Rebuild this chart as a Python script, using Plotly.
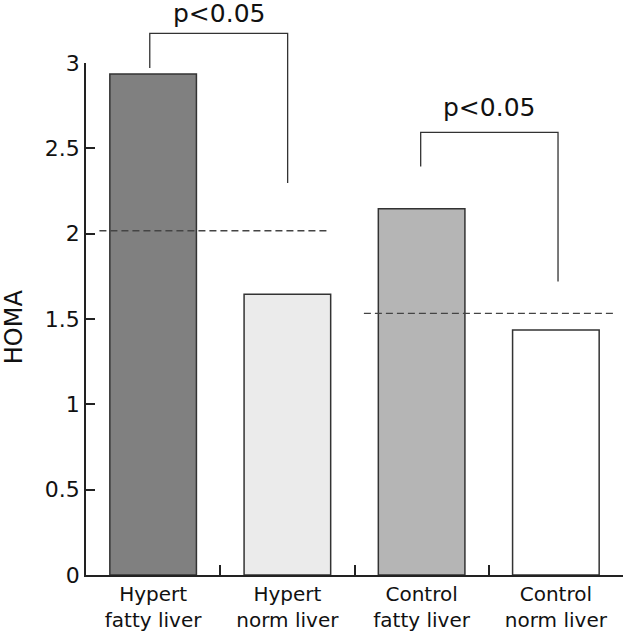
import plotly.graph_objects as go

# ---- data ----
categories = ["Hypert<br>fatty liver", "Hypert<br>norm liver", "Control<br>fatty liver", "Control<br>norm liver"]
homa_values = [2.935, 1.645, 2.146, 1.436]
bar_colors = ["#808080", "#ebebeb", "#b5b5b5", "#ffffff"]

# group mean reference lines (dashed)
mean_values = [2.017, 1.533]
mean_x_start = [-0.40, 1.57]
mean_x_end = [1.30, 3.45]

# significance brackets
bracket_left_x = [-0.025, 1.993]
bracket_right_x = [1.002, 3.016]
bracket_top_y = [3.173, 2.593]
bracket_left_bottom = [2.97, 2.393]
bracket_right_bottom = [2.297, 1.719]
bracket_labels = ["p&lt;0.05", "p&lt;0.05"]
label_y = [3.29, 2.74]

y_tick_vals = [0, 0.5, 1, 1.5, 2, 2.5, 3]
y_tick_text = ["0", "0.5", "1", "1.5", "2", "2.5", "3"]
Y_RANGE = [0, 3]
N = len(categories)

FONT = "DejaVu Sans"
INK = "#222222"


def px_(i):
    return (i + 0.5) / N


def py_(v):
    return (v - Y_RANGE[0]) / (Y_RANGE[1] - Y_RANGE[0])


fig = go.Figure()
fig.add_trace(go.Bar(
    x=categories, y=homa_values,
    marker=dict(color=bar_colors, line=dict(color="#333333", width=1.5)),
    width=0.645,
    showlegend=False,
    hoverinfo="skip",
))

shapes = []
for v, a, b in zip(mean_values, mean_x_start, mean_x_end):
    shapes.append(dict(type="line", xref="paper", yref="paper",
                       x0=px_(a), x1=px_(b), y0=py_(v), y1=py_(v),
                       line=dict(color="#444444", width=1.4, dash="7px,4px")))

for lx, rx, ty, lb, rb in zip(bracket_left_x, bracket_right_x, bracket_top_y,
                              bracket_left_bottom, bracket_right_bottom):
    shapes.append(dict(type="path", xref="paper", yref="paper",
                       path=f"M {px_(lx)},{py_(lb)} L {px_(lx)},{py_(ty)} L {px_(rx)},{py_(ty)} L {px_(rx)},{py_(rb)}",
                       line=dict(color="#333333", width=1.3)))

annotations = []
for lx, rx, t, ly in zip(bracket_left_x, bracket_right_x, bracket_labels, label_y):
    annotations.append(dict(xref="paper", yref="paper", x=px_((lx + rx) / 2), y=py_(ly),
                            text=t, showarrow=False, xanchor="center", yanchor="middle",
                            font=dict(family=FONT, size=25, color="#111111")))

annotations.append(dict(xref="paper", yref="paper", x=(14 - 86) / 537, y=0.484,
                        text="HOMA", textangle=-90, showarrow=False,
                        xanchor="center", yanchor="middle",
                        font=dict(family=FONT, size=24, color="#111111")))

fig.update_layout(
    width=624, height=640,
    margin=dict(l=86, r=1, t=63, b=65),
    plot_bgcolor="white", paper_bgcolor="white",
    shapes=shapes, annotations=annotations,
    bargap=0.355,
    hovermode=False,
)
fig.update_xaxes(
    type="category", showline=True, linecolor=INK, linewidth=1.5,
    ticks="inside", tickson="boundaries", ticklen=10, tickwidth=1.5, tickcolor=INK,
    tickfont=dict(family=FONT, size=20, color="#111111"),
    showgrid=False, zeroline=False, fixedrange=True,
)
fig.update_yaxes(
    range=Y_RANGE, showline=True, linecolor=INK, linewidth=1.5,
    ticks="inside", ticklen=9, tickwidth=1.5, tickcolor=INK,
    tickvals=y_tick_vals, ticktext=y_tick_text,
    tickfont=dict(family=FONT, size=22, color="#111111"),
    showgrid=False, zeroline=False, fixedrange=True,
)

fig.write_html("out.html", config={"displayModeBar": False},
               post_script="document.body.style.margin='0px';document.body.style.overflow='hidden';")
